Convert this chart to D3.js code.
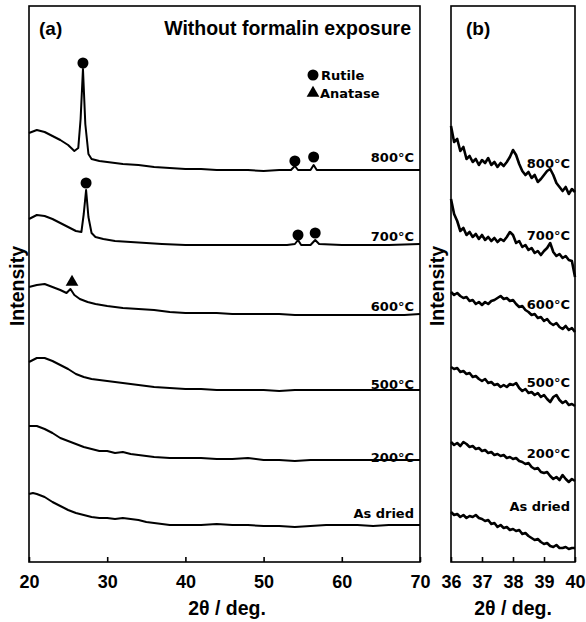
<!DOCTYPE html>
<html>
<head>
<meta charset="utf-8">
<script src="https://cdn.jsdelivr.net/npm/d3@7"></script>
<style>
  body { margin: 0; background: #fff; }
  text { font-family: "Liberation Sans", Arial, sans-serif; font-weight: bold; fill: #000; }
  text.small { font-family: "DejaVu Sans", sans-serif; font-size: 13px; }
</style>
</head>
<body>
<figure id="chart" style="margin:0"></figure>
<script>
// ---- data (intensity in arbitrary units, stacked traces) ----
var samples = ["As dried", "200°C", "500°C", "600°C", "700°C", "800°C"];

// panel (a): 2theta 20-70
var aAsDried = [[20,68],[20.5,69],[21,68],[22,65],[23,60],[24,56],[25,52],[26,49],[27,47],[28,45],[29,44],[30,44],[31,43],[32,44],[33,43],[34,42],[35,40],[36,39],[37,38],[38,37],[40,37],[42,37],[44,38],[46,37],[48,37],[50,36],[52,36],[54,35],[56,36],[58,37],[60,37],[62,37],[64,36],[66,37],[68,37],[70,37]];
var a200 = [[20,136],[21,136],[22,133],[23,129],[24,124],[25,121],[26,118],[27,115],[28,113],[29,111],[30,111],[31,109],[32,110],[33,108],[34,107],[35,106],[36,105],[38,104],[40,104],[42,104],[44,103],[46,103],[48,104],[50,102],[52,102],[54,101],[56,102],[58,102],[60,102],[62,102],[64,102],[66,102],[68,102],[70,102]];
var a500 = [[20,200],[21,204],[22,204],[23,201],[24,197],[25,193],[26,188],[27,185],[28,183],[29,182],[30,181],[32,179],[34,177],[36,175],[38,174],[40,173],[42,173],[44,172],[46,172],[48,172],[50,172],[52,171],[54,172],[56,172],[58,172],[60,172],[62,172],[64,172],[66,172],[68,172],[70,172]];
var a600 = [[20,275],[21,277],[22,278],[23,275],[24,272],[24.8,269],[25.3,273],[25.8,267],[26.5,263],[27.5,260],[28.5,258],[30,256],[32,254],[34,253],[36,252],[38,250],[40,249],[42,249],[44,249],[46,248],[48,248],[50,248],[52,248],[54,247],[56,247],[58,247],[60,247],[62,247],[64,247],[66,247],[68,247],[70,248]];
var a700 = [[20,343],[21,347],[22,346],[23,343],[24,339],[25,335],[26,331],[26.7,330],[27.0,348],[27.3,372],[27.6,345],[28,329],[28.5,325],[29.5,323],[31,321],[33,320],[35,319],[37,318],[40,317],[43,317],[46,317],[50,317],[53,317],[54.0,318],[54.4,322],[54.8,317],[56.0,317],[56.6,322],[57.1,318],[60,317],[63,317],[66,317],[70,318]];
var a800 = [[20,429],[21,432],[22,430],[23,426],[24,422],[25,417],[25.8,411],[26.3,414],[26.6,443],[26.9,493],[27.2,438],[27.6,408],[28,403],[29,401],[30,400],[32,398],[34,397],[36,395],[38,394],[40,393],[42,393],[44,392],[46,392],[48,392],[50,391],[52,392],[53.5,392],[54.0,396],[54.4,392],[56.0,392],[56.4,397],[56.8,392],[60,392],[63,392],[66,392],[70,392]];
var aSeries = [aAsDried, a200, a500, a600, a700, a800];

// phase markers [2theta, intensity]
var rutilePeaks = [[26.9,499],[54.0,401],[56.4,405],[27.3,379],[54.4,327],[56.6,329]];
var anatasePeaks = [[25.5,280]];

// panel (b): 2theta 36-40, step 0.1
var bAngles = [36.0,36.1,36.2,36.3,36.4,36.5,36.6,36.7,36.8,36.9,37.0,37.1,37.2,37.3,37.4,37.5,37.6,37.7,37.8,37.9,38.0,38.1,38.2,38.3,38.4,38.5,38.6,38.7,38.8,38.9,39.0,39.1,39.2,39.3,39.4,39.5,39.6,39.7,39.8,39.9,40.0];
var bAsDried = [50,47,48,45,47,44,46,45,47,44,43,41,42,38,39,35,37,34,35,32,33,31,32,28,29,26,24,22,23,20,18,19,16,15,17,14,14,15,13,14,14];
var b200 = [120,117,119,116,120,118,115,116,113,114,111,112,109,110,107,108,106,107,104,105,103,104,101,100,98,99,95,93,94,90,89,90,86,83,85,82,87,83,80,83,81];
var b500 = [195,193,194,190,191,188,189,185,186,183,181,183,179,180,177,178,175,177,175,178,177,179,174,171,173,169,170,167,169,165,167,163,160,165,167,162,159,161,157,158,156];
var b600 = [270,267,269,266,264,265,261,262,258,260,257,260,258,261,262,264,266,263,264,261,262,258,255,256,252,250,247,248,244,245,241,243,239,237,239,235,233,236,232,234,230];
var b700 = [363,348,341,331,334,327,330,325,328,323,327,322,325,321,324,320,323,321,325,330,327,319,321,315,317,312,314,309,311,307,311,314,319,310,306,308,304,306,302,301,285];
var b800 = [436,420,423,411,415,403,406,400,403,397,402,399,404,397,400,395,399,396,400,405,412,407,398,391,387,390,384,387,380,383,387,391,393,387,379,375,371,375,368,373,370];
var bSeries = [bAsDried, b200, b500, b600, b700, b800];

var aTicks = [20, 30, 40, 50, 60, 70];
var bTicks = [36, 37, 38, 39, 40];

// ---- layout ----
var width = 586, height = 622;
var plotTop = 6, plotBottom = 562;

var svg = d3.select("figure#chart")
    .append("svg")
    .attr("width", width)
    .attr("height", height);

var yScale = d3.scaleLinear().domain([0, 556]).range([plotBottom, plotTop]);
var xA = d3.scaleLinear().domain([20, 70]).range([29, 420]);
var xB = d3.scaleLinear().domain([36, 40]).range([451, 575]);

var line = function(x) {
    return d3.line().x(d => x(d[0])).y(d => yScale(d[1]));
};

function frame(x, ticks) {
    var r = x.range();
    svg.append("rect")
        .attr("x", r[0]).attr("y", plotTop)
        .attr("width", r[1] - r[0]).attr("height", plotBottom - plotTop)
        .attr("fill", "none").attr("stroke", "#000").attr("stroke-width", 1.6);

    var ax = svg.append("g")
        .attr("transform", `translate(0, ${plotBottom})`)
        .call(d3.axisBottom(x).tickValues(ticks)
            .tickSizeInner(-5).tickSizeOuter(0).tickPadding(13).tickFormat(d3.format("d")));
    ax.select(".domain").remove();
    ax.selectAll("line").attr("stroke", "#000").attr("stroke-width", 1.6);
    ax.selectAll("text").style("font-size", "18px").attr("dy", "0.71em");
}

frame(xA, aTicks);
frame(xB, bTicks);

// traces panel (a)
aSeries.forEach(s => {
    svg.append("path")
        .attr("d", line(xA)(s))
        .attr("fill", "none").attr("stroke", "#000")
        .attr("stroke-width", 2).attr("stroke-linejoin", "round");
});

// traces panel (b)
bSeries.forEach(s => {
    svg.append("path")
        .attr("d", line(xB)(bAngles.map((a, i) => [a, s[i]])))
        .attr("fill", "none").attr("stroke", "#000")
        .attr("stroke-width", 2.6).attr("stroke-linejoin", "round");
});

// markers
svg.selectAll("circle.rutile")
    .data(rutilePeaks)
    .enter().append("circle")
    .attr("cx", d => xA(d[0])).attr("cy", d => yScale(d[1]))
    .attr("r", 5.5).attr("fill", "#000");

svg.selectAll("path.anatase")
    .data(anatasePeaks)
    .enter().append("path")
    .attr("d", d3.symbol().type(d3.symbolTriangle).size(70))
    .attr("transform", d => `translate(${xA(d[0])}, ${yScale(d[1])})`)
    .attr("fill", "#000");

// sample labels
var aLabelY = [518, 462, 389, 311, 241, 162];
var bLabelY = [511, 458, 387, 309, 240, 168];
samples.forEach((s, i) => {
    svg.append("text").attr("class", "small").attr("x", 414).attr("y", aLabelY[i])
        .attr("text-anchor", "end").text(s);
    svg.append("text").attr("class", "small").attr("x", 570).attr("y", bLabelY[i])
        .attr("text-anchor", "end").text(s);
});

// legend
svg.append("circle").attr("cx", 313).attr("cy", 75).attr("r", 5.5).attr("fill", "#000");
svg.append("text").attr("class", "small").attr("x", 321).attr("y", 80).text("Rutile");
svg.append("path")
    .attr("d", d3.symbol().type(d3.symbolTriangle).size(70))
    .attr("transform", "translate(313, 93)").attr("fill", "#000");
svg.append("text").attr("class", "small").attr("x", 320).attr("y", 98).text("Anatase");

// panel titles
svg.append("text").attr("x", 39).attr("y", 35).style("font-size", "19px").text("(a)");
svg.append("text").attr("x", 411).attr("y", 35).attr("text-anchor", "end")
    .style("font-size", "19.5px").text("Without formalin exposure");
svg.append("text").attr("x", 466).attr("y", 35).style("font-size", "19px").text("(b)");

// axis titles
svg.append("text").attr("x", 227).attr("y", 615).attr("text-anchor", "middle")
    .style("font-size", "19.5px").text("2θ / deg.");
svg.append("text").attr("x", 513).attr("y", 615).attr("text-anchor", "middle")
    .style("font-size", "19.5px").text("2θ / deg.");
svg.append("text").attr("transform", "translate(24, 286) rotate(-90)")
    .attr("text-anchor", "middle").style("font-size", "19.5px").text("Intensity");
svg.append("text").attr("transform", "translate(444, 286) rotate(-90)")
    .attr("text-anchor", "middle").style("font-size", "19.5px").text("Intensity");
</script>
</body>
</html>
